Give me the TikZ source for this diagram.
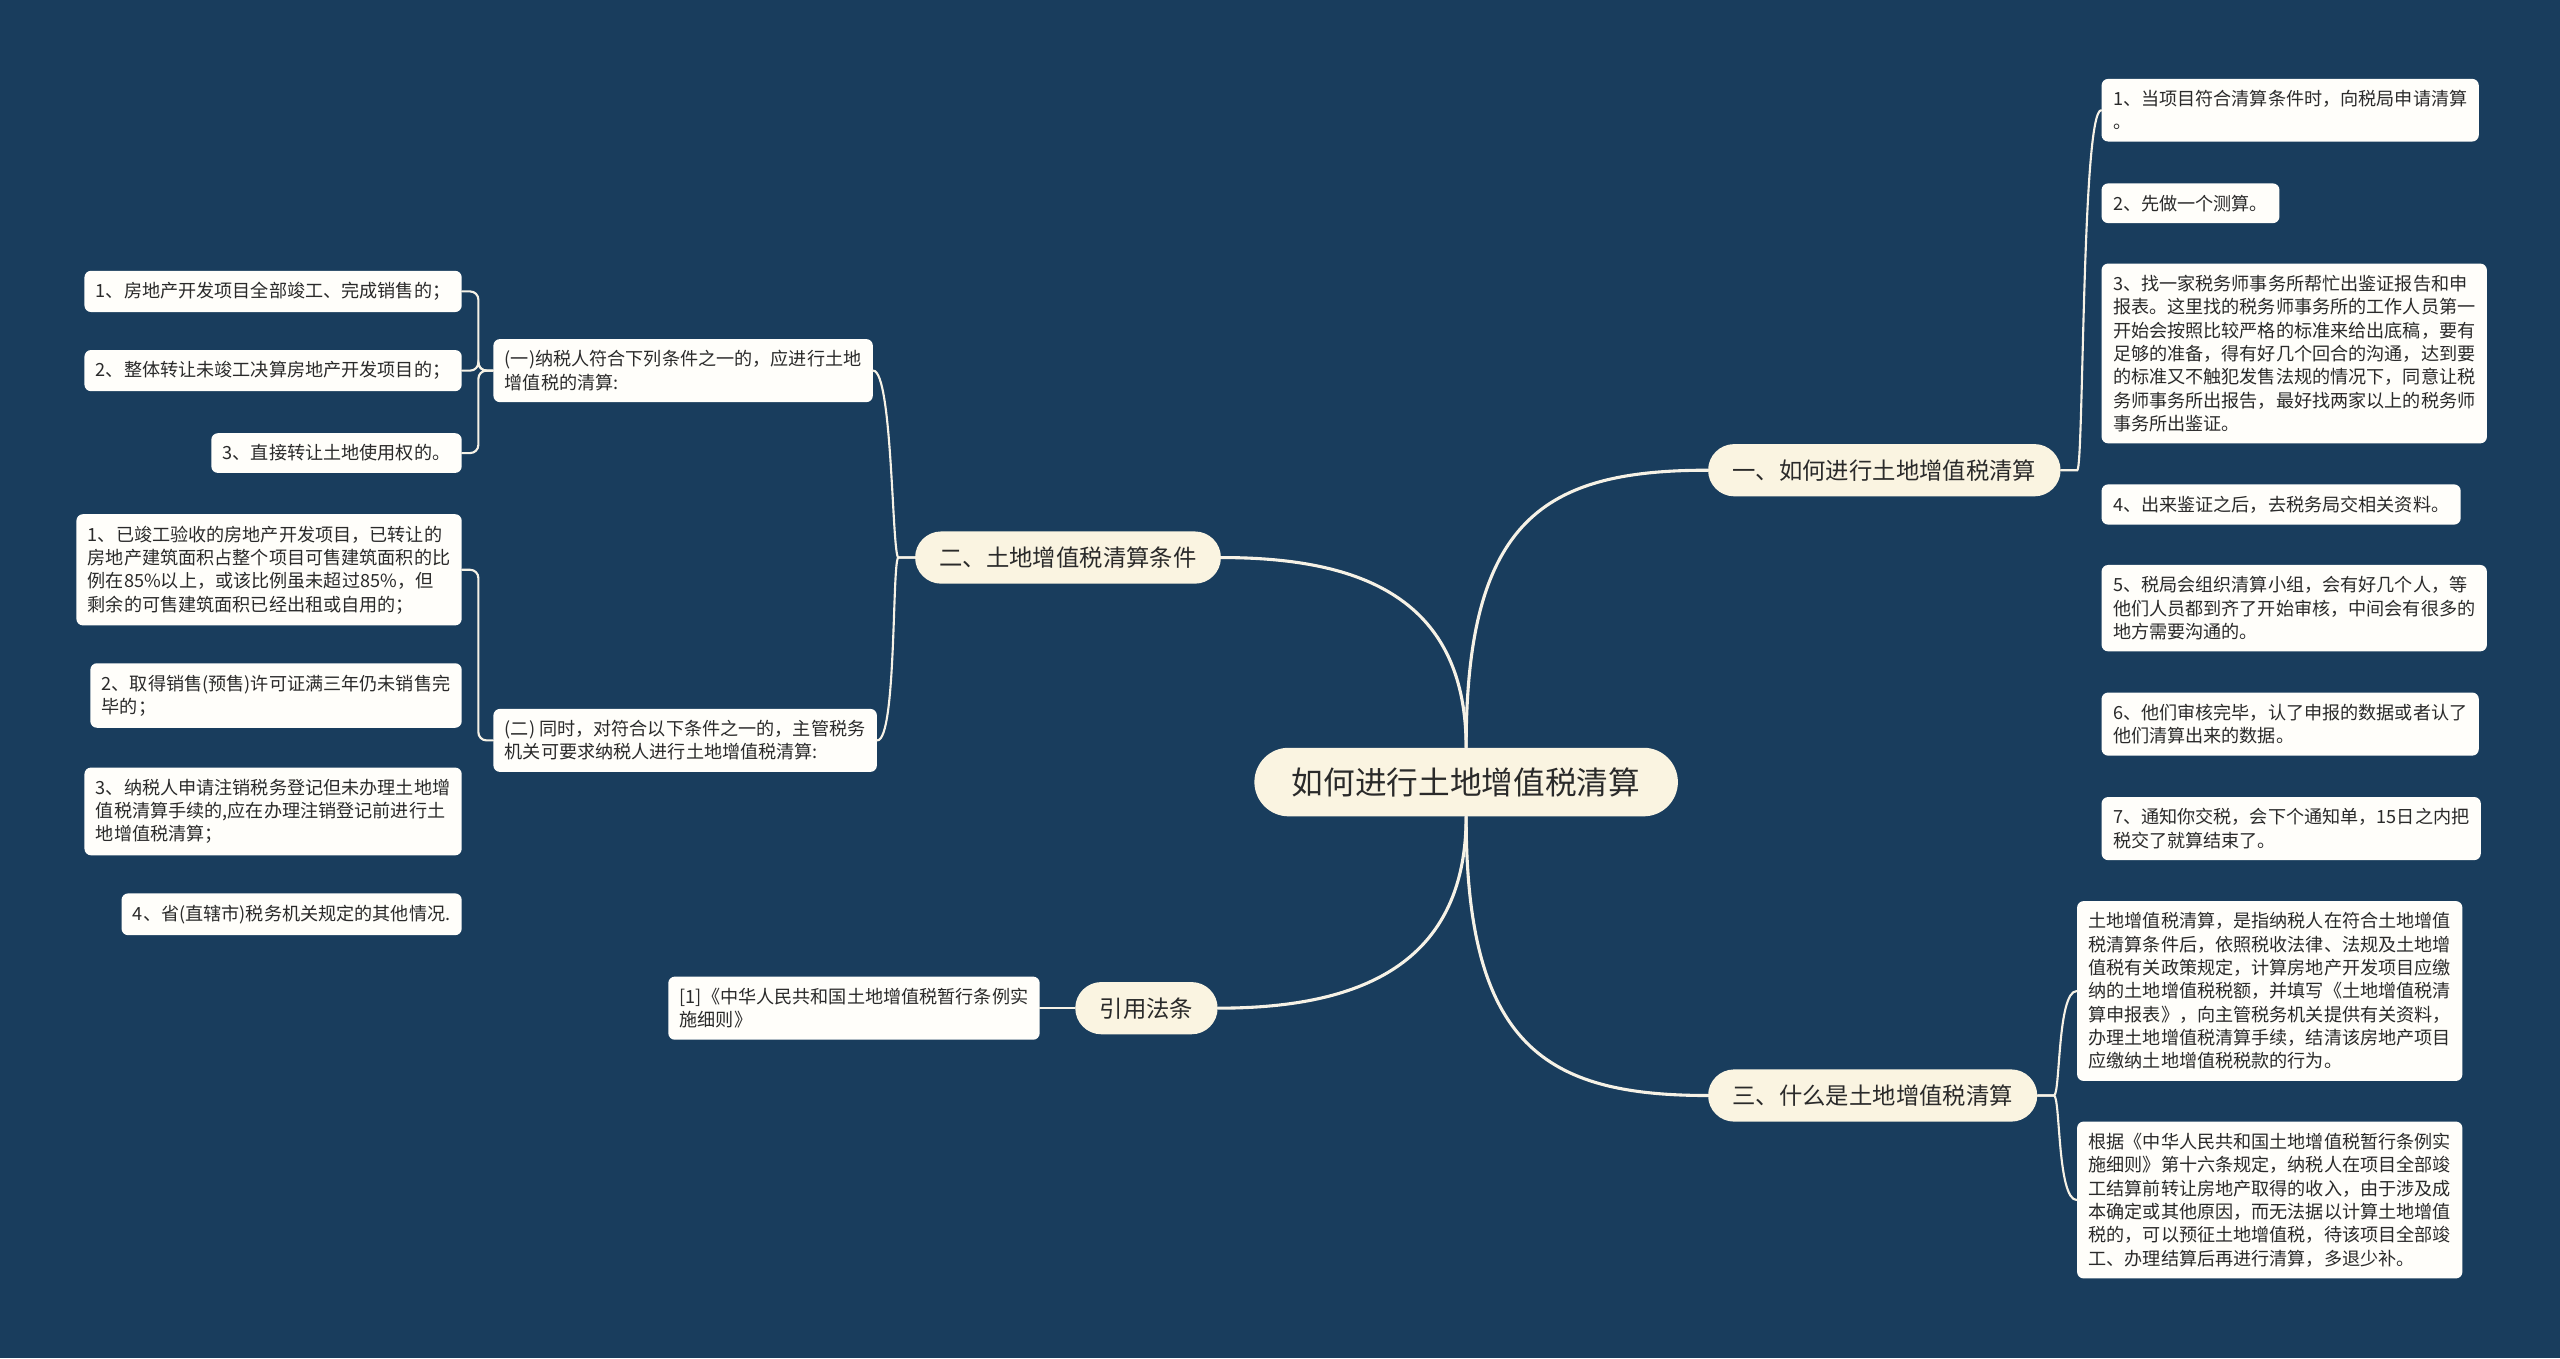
\documentclass[tikz,border=0pt]{standalone}
\usepackage{fontspec}
\setmainfont{Noto Sans CJK SC}
\definecolor{fondo}{HTML}{193D5D}
\definecolor{crema}{HTML}{FAF4E1}
\definecolor{papel}{HTML}{FFFEFA}
\definecolor{linea}{HTML}{F6F2E6}
\definecolor{tinta}{HTML}{2A2A2A}
\begin{document}
\begin{tikzpicture}[x=1pt, y=-1pt,
    nucleo/.style={rounded corners=21pt, fill=crema, text=tinta, inner xsep=23pt, inner ysep=0pt, minimum height=42pt, font=\fontsize{19.4}{23}\selectfont},
    rama/.style={rounded corners=16pt, fill=crema, text=tinta, inner xsep=15pt, inner ysep=0pt, minimum height=32pt, font=\fontsize{14.3}{17}\selectfont},
    hoja/.style={rounded corners=4pt, fill=papel, text=tinta, align=left, inner xsep=7pt, inner ysep=7pt, font=\fontsize{11.1}{14.3}\selectfont},
    enlace/.style={draw=linea, line width=1.9pt, line cap=round},
    enlacefino/.style={draw=linea, line width=1.3pt, line cap=round},
    haciader/.style={to path={.. controls +(4,0) and +(-12,0) .. (\tikztotarget)}},
    haciaizq/.style={to path={.. controls +(-4,0) and +(12,0) .. (\tikztotarget)}}]

% Fondo
\fill[fondo] (0,0) rectangle (1568,832);
\useasboundingbox (0,0) rectangle (1568,832);

% =============================================
% NODO CENTRAL Y RAMAS
% =============================================
\node[nucleo] (centro) at (898,479) {如何进行土地增值税清算};

\node[rama, anchor=west] (r1) at (1046,288) {一、如何进行土地增值税清算};
\node[rama, anchor=east] (r2) at (748,341.5) {二、土地增值税清算条件};
\node[rama, anchor=east] (r3) at (746,617.5) {引用法条};
\node[rama, anchor=west] (r4) at (1046,671) {三、什么是土地增值税清算};

\draw[enlace] (centro.north) .. controls +(0,-140) and +(-100,0) .. (r1.west);
\draw[enlace] (centro.north) .. controls +(0,-95) and +(80,0) .. (r2.east);
\draw[enlace] (centro.south) .. controls +(0,95) and +(80,0) .. (r3.east);
\draw[enlace] (centro.south) .. controls +(0,140) and +(-100,0) .. (r4.west);

% =============================================
% RAMA DERECHA: pasos del cálculo
% =============================================
\node[hoja, anchor=west] (p1) at (1287,67.5) {1、当项目符合清算条件时，向税局申请清算\\。};
\node[hoja, anchor=west] (p2) at (1287,124.5) {2、先做一个测算。};
\node[hoja, anchor=west] (p3) at (1287,216.5) {3、找一家税务师事务所帮忙出鉴证报告和申\\报表。这里找的税务师事务所的工作人员第一\\开始会按照比较严格的标准来给出底稿，要有\\足够的准备，得有好几个回合的沟通，达到要\\的标准又不触犯发售法规的情况下，同意让税\\务师事务所出报告，最好找两家以上的税务师\\事务所出鉴证。};
\node[hoja, anchor=west] (p4) at (1287,309) {4、出来鉴证之后，去税务局交相关资料。};
\node[hoja, anchor=west] (p5) at (1287,372.5) {5、税局会组织清算小组，会有好几个人，等\\他们人员都到齐了开始审核，中间会有很多的\\地方需要沟通的。};
\node[hoja, anchor=west] (p6) at (1287,443.5) {6、他们审核完毕，认了申报的数据或者认了\\他们清算出来的数据。};
\node[hoja, anchor=west] (p7) at (1287,507.5) {7、通知你交税，会下个通知单，15日之内把\\税交了就算结束了。};

\foreach \p in {p1,...,p7}
    \draw[enlacefino] (r1.east) -- ++(10,0) to[haciader] (\p.west);

% =============================================
% RAMA DERECHA: definición
% =============================================
\node[hoja, anchor=west] (d1) at (1272,607) {土地增值税清算，是指纳税人在符合土地增值\\税清算条件后，依照税收法律、法规及土地增\\值税有关政策规定，计算房地产开发项目应缴\\纳的土地增值税税额，并填写《土地增值税清\\算申报表》，向主管税务机关提供有关资料，\\办理土地增值税清算手续，结清该房地产项目\\应缴纳土地增值税税款的行为。};
\node[hoja, anchor=west] (d2) at (1272,735) {根据《中华人民共和国土地增值税暂行条例实\\施细则》第十六条规定，纳税人在项目全部竣\\工结算前转让房地产取得的收入，由于涉及成\\本确定或其他原因，而无法据以计算土地增值\\税的，可以预征土地增值税，待该项目全部竣\\工、办理结算后再进行清算，多退少补。};

\foreach \d in {d1,d2}
    \draw[enlacefino] (r4.east) -- ++(10,0) to[haciader] (\d.west);

% =============================================
% RAMA IZQUIERDA: condiciones
% =============================================
\node[hoja, anchor=west] (c1) at (302,227) {(一)纳税人符合下列条件之一的，应进行土地\\增值税的清算:};
\node[hoja, anchor=west] (c2) at (302,453.5) {(二) 同时，对符合以下条件之一的，主管税务\\机关可要求纳税人进行土地增值税清算:};

\foreach \c in {c1,c2}
    \draw[enlacefino] (r2.west) -- ++(-10,0) to[haciaizq] (\c.east);

% Condiciones obligatorias
\node[hoja, anchor=east] (a1) at (283,178.5) {1、房地产开发项目全部竣工、完成销售的；};
\node[hoja, anchor=east] (a2) at (283,227) {2、整体转让未竣工决算房地产开发项目的；};
\node[hoja, anchor=east] (a3) at (283,277.5) {3、直接转让土地使用权的。};

\foreach \a in {a1,a2,a3}
    \draw[enlacefino, rounded corners=5pt] (c1.west) -- ++(-9,0) |- (\a.east);

% Condiciones a requerimiento
\node[hoja, anchor=east] (b1) at (283,349) {1、已竣工验收的房地产开发项目，已转让的\\房地产建筑面积占整个项目可售建筑面积的比\\例在85\%以上，或该比例虽未超过85\%，但\\剩余的可售建筑面积已经出租或自用的；};
\node[hoja, anchor=east] (b2) at (283,426) {2、取得销售(预售)许可证满三年仍未销售完\\毕的；};
\node[hoja, anchor=east] (b3) at (283,497) {3、纳税人申请注销税务登记但未办理土地增\\值税清算手续的,应在办理注销登记前进行土\\地增值税清算；};
\node[hoja, anchor=east] (b4) at (283,560) {4、省(直辖市)税务机关规定的其他情况.};

\foreach \b in {b1,...,b4}
    \draw[enlacefino, rounded corners=5pt] (c2.west) -- ++(-9,0) |- (\b.east);

% =============================================
% REFERENCIA LEGAL
% =============================================
\node[hoja, anchor=east] (ley) at (637,617.5) {[1]《中华人民共和国土地增值税暂行条例实\\施细则》};
\draw[enlacefino] (r3.west) -- (ley.east);

\end{tikzpicture}
\end{document}
